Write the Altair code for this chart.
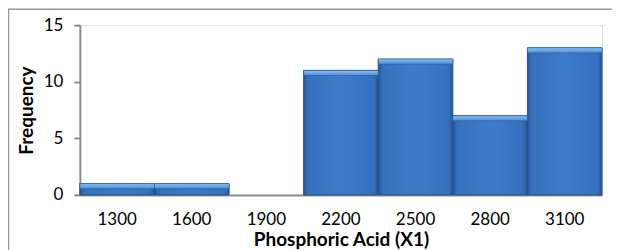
import altair as alt
import pandas as pd

bins = ["1300", "1600", "1900", "2200", "2500", "2800", "3100"]
freq = [1, 1, 0, 11, 12, 7, 13]

df = pd.DataFrame({"bin": bins, "freq": freq})

FONT = "Lato"

xscale = alt.Scale(domain=bins, paddingInner=0, paddingOuter=0)

xenc = alt.X(
    "bin:O",
    sort=bins,
    scale=xscale,
    axis=alt.Axis(
        title="Phosphoric Acid (X1)",
        labelAngle=0,
        ticks=False,
        tickSize=0,
        labelPadding=17,
        labelFontSize=17,
        labelFont=FONT,
        labelColor="#000000",
        titleFont=FONT,
        titleFontSize=19,
        titleFontWeight="bold",
        titleColor="#000000",
        titlePadding=3,
        domainColor="#8c8c8c",
        domainWidth=2,
    ),
)

yscale = alt.Scale(domain=[0, 15])
yaxis = alt.Axis(
    title="Frequency",
    values=[0, 5, 10, 15],
    grid=False,
    tickSize=6,
    tickWidth=2,
    tickColor="#8c8c8c",
    domainColor="#8c8c8c",
    domainWidth=2,
    labelPadding=11,
    labelFontSize=17,
    labelFont=FONT,
    labelColor="#000000",
    titleFont=FONT,
    titleFontSize=19,
    titleFontWeight="bold",
    titleColor="#000000",
    titlePadding=7,
)

body_grad = alt.Gradient(
    gradient="linear",
    x1=0, x2=1, y1=0, y2=0,
    stops=[
        alt.GradientStop(offset=0, color="#24579d"),
        alt.GradientStop(offset=0.06, color="#3670bd"),
        alt.GradientStop(offset=0.5, color="#3d7bca"),
        alt.GradientStop(offset=0.94, color="#3670bd"),
        alt.GradientStop(offset=1, color="#24579d"),
    ],
)

top_grad = alt.Gradient(
    gradient="linear",
    x1=0, x2=0, y1=0, y2=1,
    stops=[
        alt.GradientStop(offset=0, color="#8cc0f5"),
        alt.GradientStop(offset=1, color="#4d8edb"),
    ],
)

base = alt.Chart(df).transform_filter("datum.freq > 0")

bars = base.mark_bar(
    color=body_grad, stroke="#2b4f80", strokeWidth=1
).encode(
    x=xenc,
    y=alt.Y("freq:Q", scale=yscale, axis=yaxis),
)

bevel = base.transform_calculate(
    top2="datum.freq - 0.45"
).mark_bar(
    color=top_grad, stroke="#2b5a96", strokeWidth=0.6
).encode(
    x=alt.X("bin:O", sort=bins, scale=xscale),
    y=alt.Y("freq:Q", scale=yscale),
    y2="top2:Q",
)

border = alt.Chart(pd.DataFrame({"a": [0]})).mark_rect(
    fill=None, stroke="#9a9a9a", strokeWidth=1.5
).encode(
    x=alt.value(-71.5),
    x2=alt.value(620),
    y=alt.value(-16),
    y2=alt.value(300),
)

chart = alt.layer(border, bars, bevel).properties(
    width=523,
    height=170,
    autosize=alt.AutoSizeParams(type="none"),
    padding={"left": 72, "top": 17, "right": 10, "bottom": 60},
).configure_view(stroke=None).configure(background="#ffffff")

chart.save("out.html", embed_options={"renderer": "svg", "actions": False})
